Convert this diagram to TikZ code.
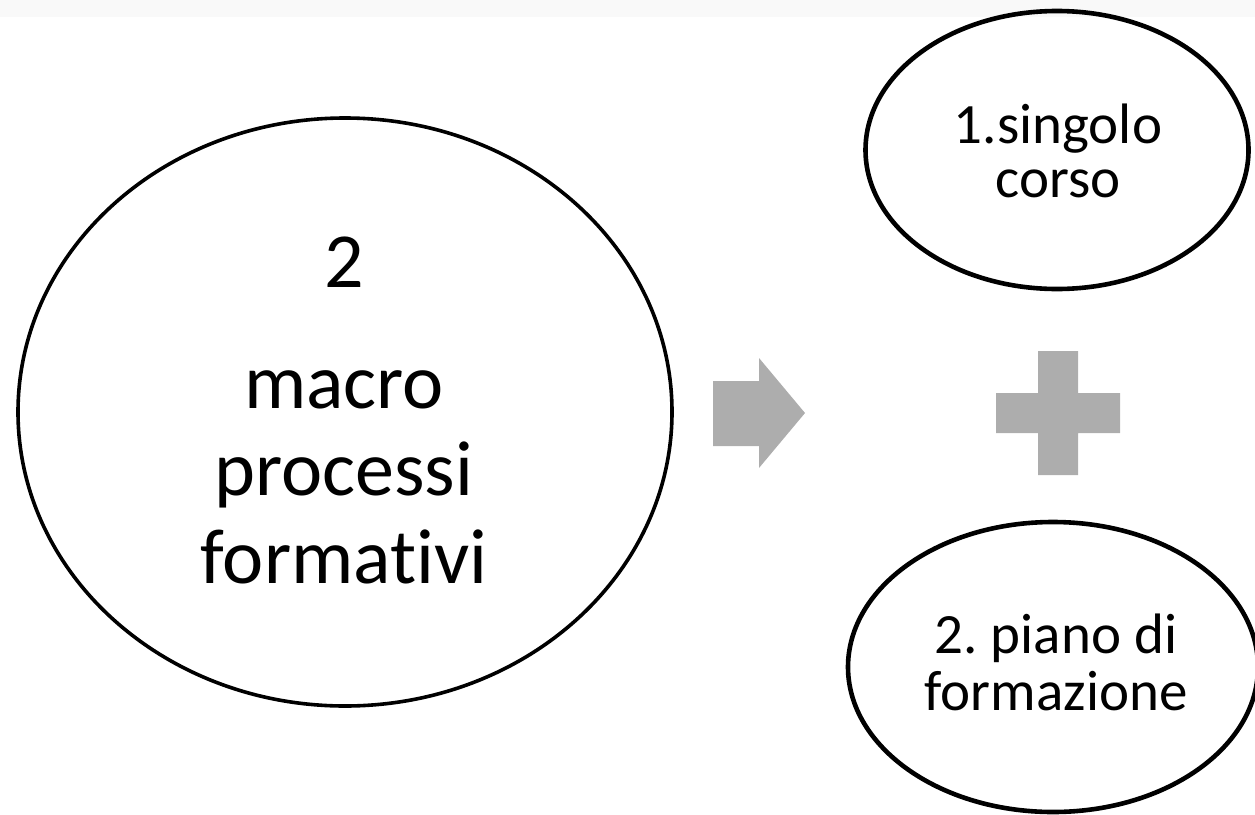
\documentclass[tikz,border=0pt]{standalone}
\usepackage{fontspec}
\setmainfont{Carlito}[Ligatures={NoCommon,NoContextual}]
\frenchspacing
\usetikzlibrary{shapes.geometric,positioning}
\definecolor{shapegray}{HTML}{ADADAD}
\definecolor{bandgray}{HTML}{F9F9F9}
\tikzstyle{bubble}=[
    ellipse, draw=black, inner sep=0pt,
]
\tikzstyle{big bubble}=[bubble, line width=3.6pt]
\tikzstyle{small bubble}=[bubble, line width=4.6pt]
\tikzstyle{big text}=[anchor=base, inner sep=0pt, font=\fontsize{78}{88}\selectfont]
\tikzstyle{small text}=[anchor=base, inner sep=0pt, font=\fontsize{57}{57}\selectfont]

\begin{document}
\begin{tikzpicture}[x=1pt, y=-1pt]
        \useasboundingbox (0,0) rectangle (1255,814);
        \fill[bandgray] (0,0) rectangle (1255,17);

        \node[big bubble, minimum width=654pt, minimum height=588pt] (macro) at (345,412) {};
        \node[big text] (due) at (344,287) {2};
        \node[big text] (macro1) at (344,408) {macro};
        \node[big text] (macro2) at (344,495.5) {processi};
        \node[big text] (macro3) at (344,583) {formativi};

        \node[small bubble, minimum width=383pt, minimum height=278pt] (corso) at (1057,150) {};
        \node[small text] (corso1) at (1058,143) {1.singolo};
        \node[small text] (corso2) at (1058,197) {corso};

        \node[small bubble, minimum width=410pt, minimum height=290pt] (piano) at (1053,667) {};
        \node[small text] (piano1) at (1056,653) {2. piano di};
        \node[small text] (piano2) at (1056,710) {formazione};

        % freccia e piu'
        \fill[shapegray] (713,381) -- (759,381) -- (759,358) -- (805,413)
            -- (759,468) -- (759,446) -- (713,446) -- cycle;
        \fill[shapegray] (996,393) -- (1038,393) -- (1038,351) -- (1078,351)
            -- (1078,393) -- (1120,393) -- (1120,433) -- (1078,433)
            -- (1078,475) -- (1038,475) -- (1038,433) -- (996,433) -- cycle;
    \end{tikzpicture}
\end{document}
